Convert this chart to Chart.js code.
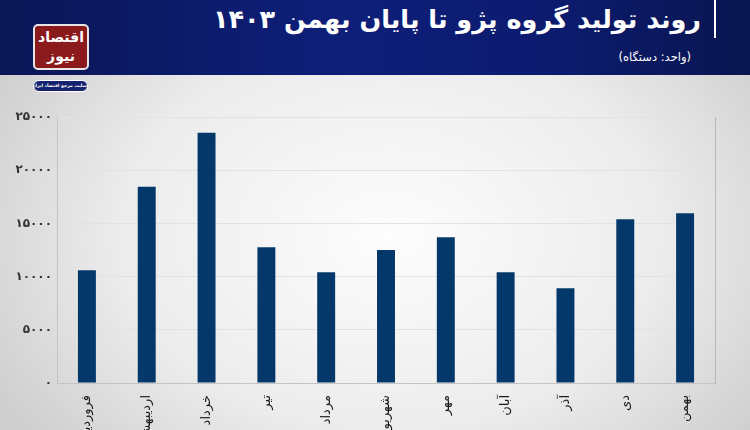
<!DOCTYPE html>
<html lang="fa">
<head>
<meta charset="utf-8">
<script src="https://cdn.jsdelivr.net/npm/chart.js@4.4.1/dist/chart.umd.min.js"></script>
<style>
  html, body { margin: 0; padding: 0; }
  body {
    width: 750px; height: 430px; overflow: hidden; position: relative;
    font-family: "DejaVu Sans", sans-serif;
    background: radial-gradient(ellipse 60% 75% at 52% 55%, #fdfdfd 0%, #ececec 60%, #cfcfcf 100%);
  }
  #header {
    position: absolute; left: 0; top: 0; width: 750px; height: 75px;
    background: linear-gradient(to right, #0a1655 0%, #0e1f7a 45%, #0c1b6e 75%, #09154f 100%);
  }
  #title {
    position: absolute; right: 49px; top: 4px; direction: rtl;
    color: #fff; font-weight: bold; font-size: 25.5px; white-space: nowrap;
  }
  #bar {
    position: absolute; left: 714px; top: 0; width: 2px; height: 38px; background: #fff;
  }
  #unit {
    position: absolute; right: 59px; top: 50px; direction: rtl;
    color: #fff; font-size: 11.5px; white-space: nowrap;
  }
  #logo {
    position: absolute; left: 33px; top: 24px; width: 52px; height: 40px;
    background: #8b1a1c; border: 2px solid #e6e6e6; border-radius: 5px;
    color: #fff; font-weight: bold; font-size: 14px; text-align: center; line-height: 19px;
    direction: rtl; white-space: nowrap; overflow: hidden; padding-top: 2px;
  }
  #pill {
    position: absolute; left: 33px; top: 80px; width: 53px; height: 10px;
    background: #15236e; border: 1.5px solid #fff; border-radius: 6px;
    color: #fff; font-size: 4.5px; font-weight: bold; text-align: center; line-height: 10px;
    direction: rtl; white-space: nowrap; overflow: hidden;
  }
  #wrap { position: absolute; left: 0; top: 0; width: 750px; height: 430px; }
</style>
</head>
<body>
<div id="header"></div>
<div id="title">روند تولید گروه پژو تا پایان بهمن ۱۴۰۳</div>
<div id="bar"></div>
<div id="unit">(واحد: دستگاه)</div>
<div id="logo">اقتصاد<br>نیوز</div>
<div id="pill">سایت مرجع اقتصاد ایران</div>
<div id="wrap"><canvas id="grafico"></canvas></div>
<script>
const meses = ['فروردین', 'اردیبهشت', 'خرداد', 'تیر', 'مرداد', 'شهریور', 'مهر', 'آبان', 'آذر', 'دی', 'بهمن'];
const producao = [10600, 18450, 23530, 12750, 10400, 12500, 13700, 10400, 8900, 15380, 15950];
const ticksY = [0, 5000, 10000, 15000, 20000, 25000];

const digitos = '۰۱۲۳۴۵۶۷۸۹';
function persa(n) {
  return String(n).replace(/[0-9]/g, d => digitos[d]);
}

new Chart(document.getElementById('grafico'), {
  type: 'bar',
  data: {
    labels: meses,
    datasets: [{
      data: producao,
      backgroundColor: '#04386a',
      categoryPercentage: 1,
      barPercentage: 0.3,
    }]
  },
  options: {
    responsive: true,
    maintainAspectRatio: false,
    animation: false,
    layout: { padding: { top: 117, right: 35, left: 4, bottom: 0 } },
    plugins: { legend: { display: false }, tooltip: { enabled: false } },
    scales: {
      x: {
        grid: { display: false },
        border: { color: '#c4c4c4' },
        ticks: {
          autoSkip: false, minRotation: 90, maxRotation: 90,
          color: '#1a1a1a', padding: 4,
          font: { family: 'DejaVu Sans', size: 13 },
        },
        afterFit: s => { s.height = 47; },
      },
      y: {
        min: 0, max: 25000,
        afterBuildTicks: s => { s.ticks = ticksY.map(v => ({ value: v })); },
        grid: { color: '#e2e2e2', drawTicks: false },
        border: { color: '#c4c4c4' },
        ticks: {
          color: '#333', padding: 5,
          font: { family: 'DejaVu Sans', size: 12, weight: 'bold' },
          callback: v => persa(v),
        },
        afterFit: s => { s.width = 53; },
      },
      y2: {
        position: 'right', min: 0, max: 25000,
        grid: { display: false },
        border: { color: '#b8b8b8' },
        ticks: { display: false },
        afterFit: s => { s.width = 0; },
      }
    }
  }
});
</script>
</body>
</html>
